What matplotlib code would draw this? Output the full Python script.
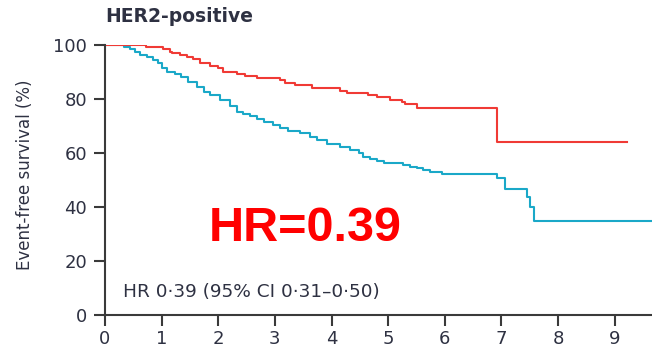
import matplotlib.pyplot as plt

# Kaplan-Meier steps (years, % event-free)
red_t = [0, 0.72, 1.02, 1.15, 1.18, 1.33, 1.45, 1.55, 1.68, 1.86, 2.00, 2.08, 2.33, 2.47,
         2.68, 3.09, 3.18, 3.36, 3.65, 4.15, 4.27, 4.65, 4.80, 5.04, 5.24, 5.30, 5.51, 6.92, 9.22]
red_s = [100, 99.1, 98.5, 97.5, 96.9, 96.2, 95.4, 94.7, 93.2, 92.2, 91.4, 90.1, 89.3, 88.6,
         87.9, 87.0, 86.0, 85.2, 84.0, 83.1, 82.3, 81.5, 80.9, 79.6, 78.9, 78.1, 76.5, 64.2, 64.2]

blue_t = [0, 0.33, 0.44, 0.53, 0.62, 0.74, 0.85, 0.94, 1.00, 1.09, 1.24, 1.35, 1.47, 1.62,
          1.74, 1.86, 2.03, 2.21, 2.33, 2.44, 2.56, 2.68, 2.80, 2.97, 3.09, 3.24, 3.45, 3.62,
          3.74, 3.92, 4.15, 4.33, 4.48, 4.56, 4.68, 4.80, 4.92, 5.27, 5.39, 5.51, 5.62, 5.74,
          5.95, 6.92, 7.07, 7.45, 7.51, 7.58, 9.66]
blue_s = [100, 99.1, 98.4, 97.5, 96.3, 95.4, 94.4, 93.2, 91.4, 90.1, 89.1, 88.3, 86.4, 84.6,
          82.7, 81.5, 79.6, 77.3, 75.3, 74.4, 73.7, 72.5, 71.6, 70.4, 69.1, 68.3, 67.3, 66.0,
          64.8, 63.3, 62.1, 61.1, 59.9, 58.6, 57.8, 57.0, 56.4, 55.6, 54.9, 54.3, 53.7, 53.1,
          52.2, 50.9, 46.5, 43.8, 40.1, 34.9, 34.9]

x_ticks = list(range(10))
y_ticks = [0, 20, 40, 60, 80, 100]

text_col = '#2e3142'
axis_col = '#3a3a3a'

fig = plt.figure(figsize=(6.52, 3.49), dpi=100)
ax = fig.add_axes([105 / 652, 1 - 315 / 349, 1 - 105 / 652, 270 / 349])

ax.step(blue_t, blue_s, where='post', color='#1aa8c8', lw=1.5)
ax.step(red_t, red_s, where='post', color='#f03a35', lw=1.5)

ax.set_xlim(0, 9.66)
ax.set_ylim(0, 100)
ax.set_xticks(x_ticks)
ax.set_yticks(y_ticks)
ax.tick_params(length=8, width=1.5, color=axis_col, labelcolor=text_col, labelsize=13)
ax.tick_params(axis='y', pad=5)
ax.tick_params(axis='x', pad=3)
for side in ['top', 'right']:
    ax.spines[side].set_visible(False)
for side in ['left', 'bottom']:
    ax.spines[side].set_linewidth(1.5)
    ax.spines[side].set_color(axis_col)

# annotations
ax.text(0.32, 8.5, 'HR 0·39 (95% CI 0·31–0·50)', fontsize=13.3, color=text_col, va='center')
ax.text(3.53, 32.2, 'HR=0.39', fontsize=35, fontweight='bold', color='#ff0000',
        family='Liberation Sans', ha='center', va='center')

fig.text(105 / 652, 1 - 16 / 349, 'HER2-positive', fontsize=13.5, fontweight='bold',
         color=text_col, va='center')
fig.text(25 / 652, 1 - 175 / 349, 'Event-free survival (%)', fontsize=12, rotation=90,
         color=text_col, ha='center', va='center')

fig.savefig('out.png', dpi=100)
